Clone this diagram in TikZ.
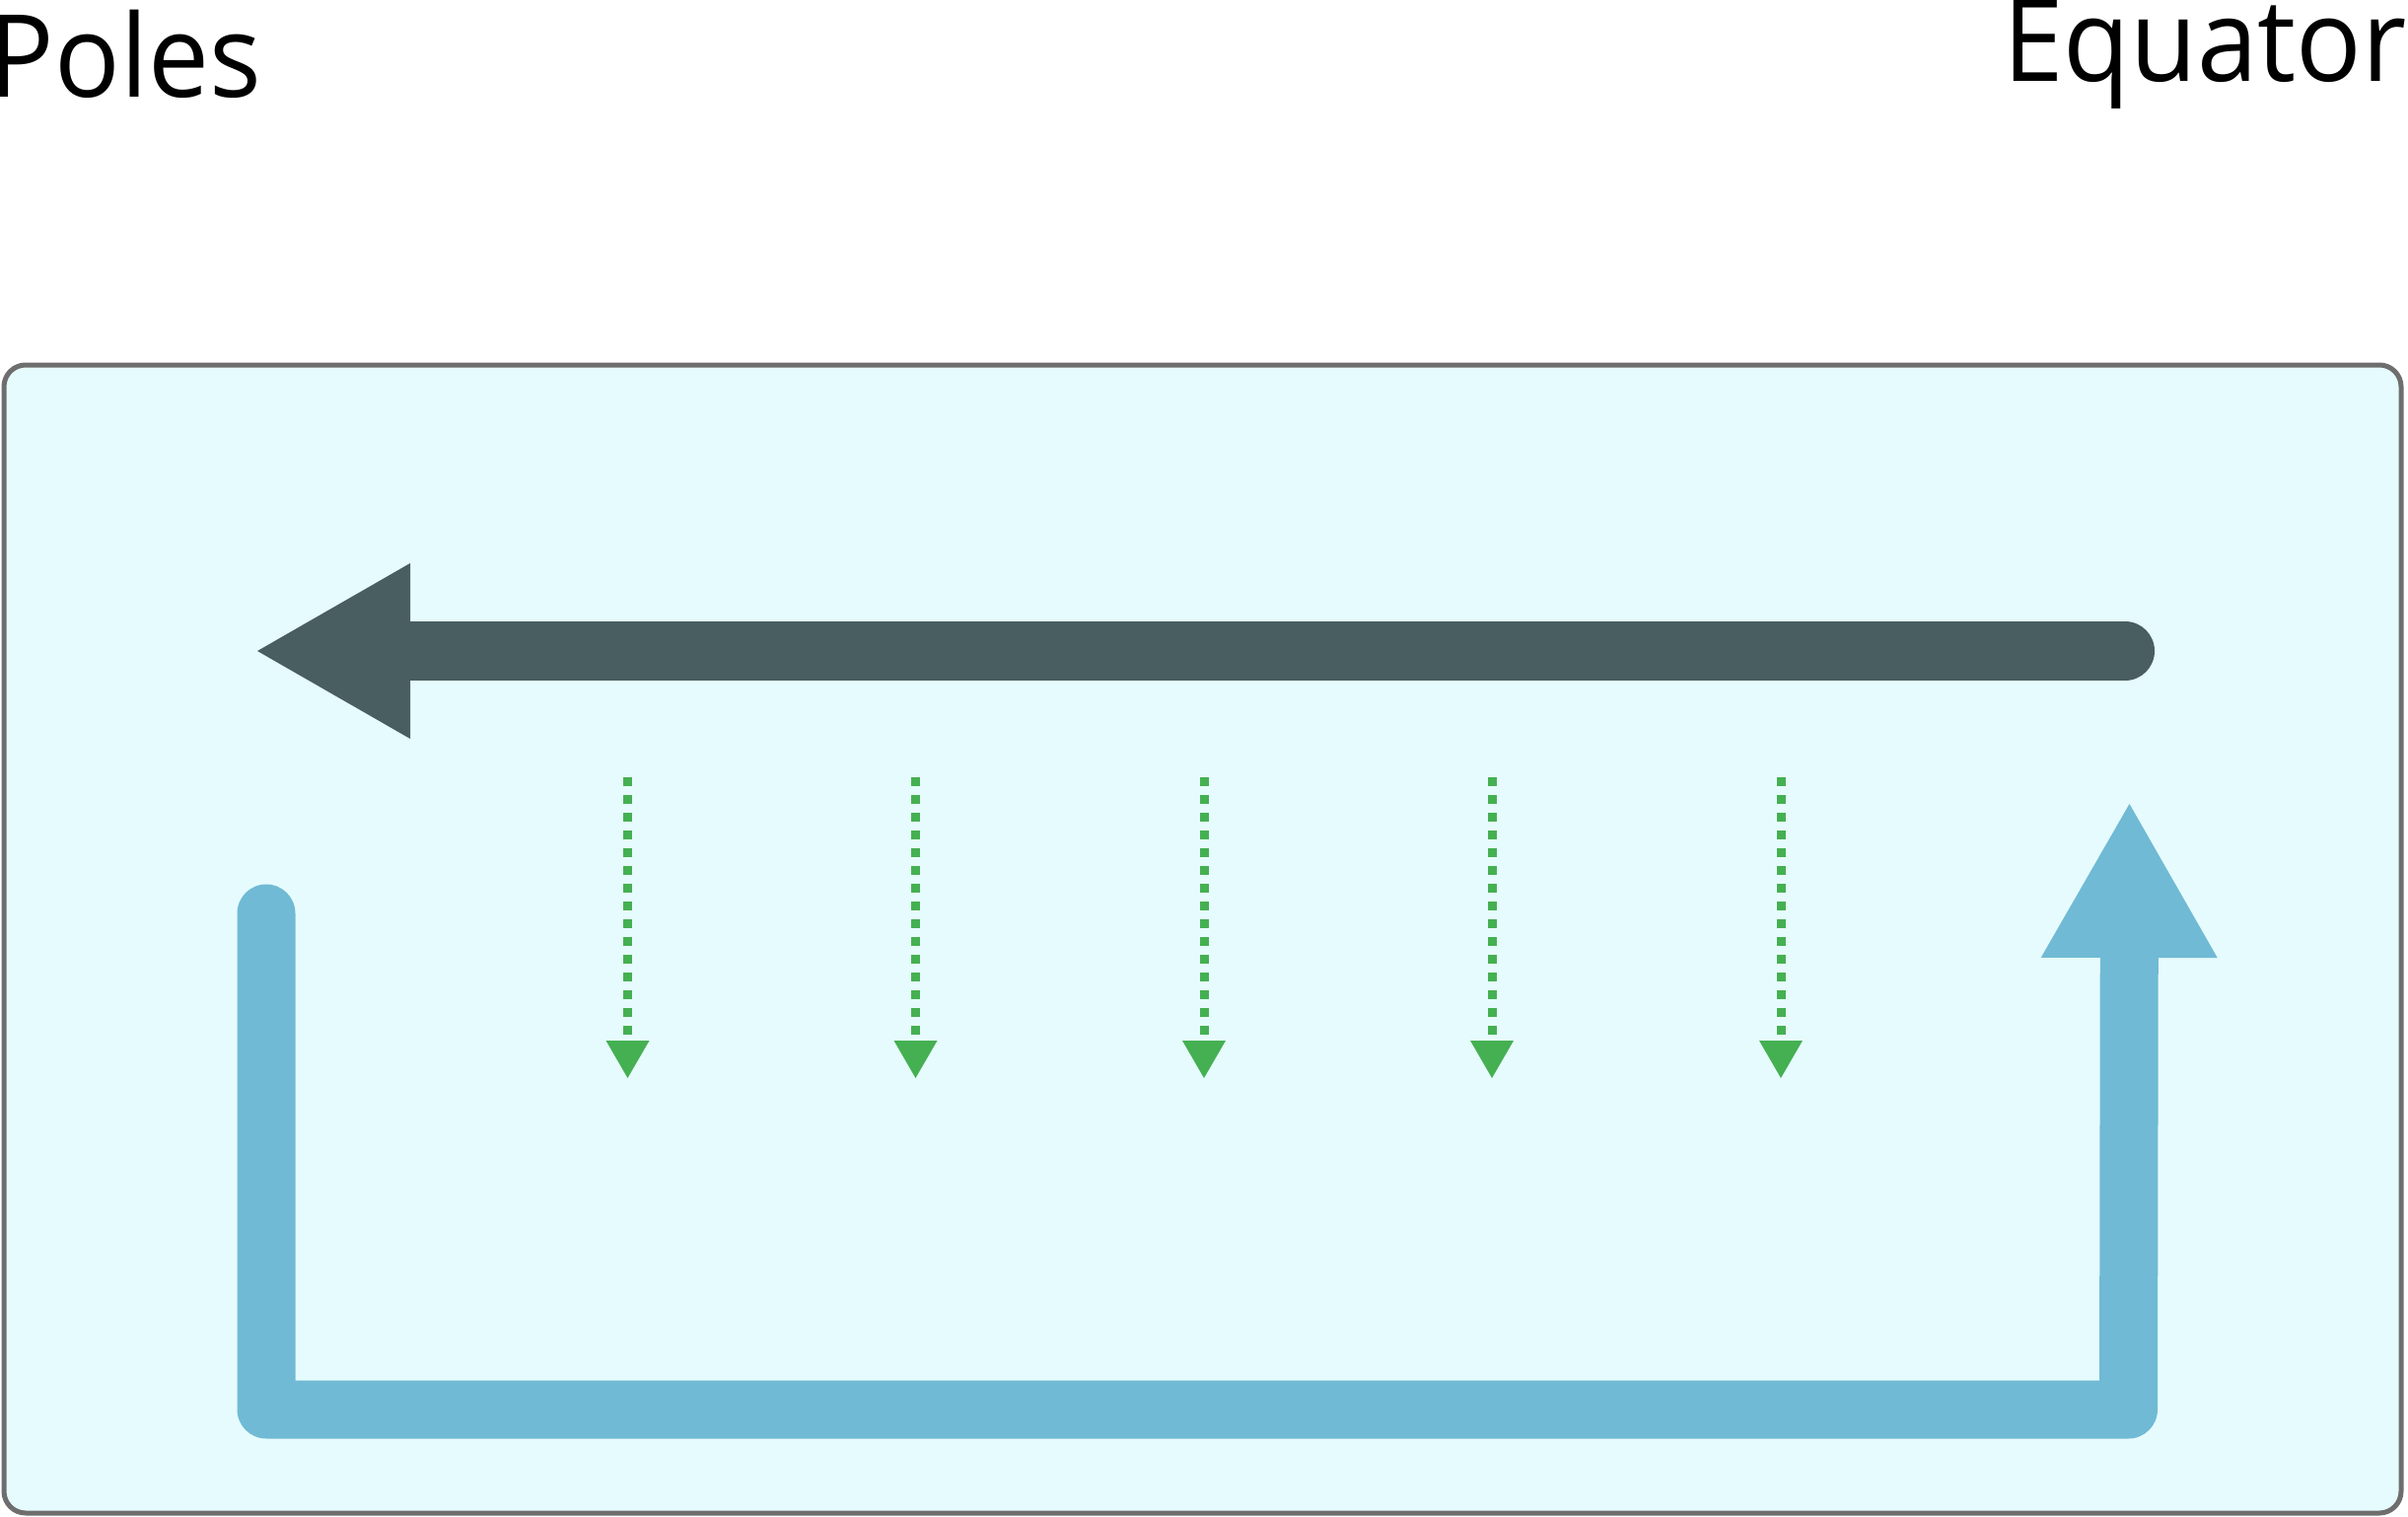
\documentclass[tikz,border=0pt]{standalone}
\usepackage{fontspec}
\setmainfont{Open Sans}[FakeStretch=0.95]
\usetikzlibrary{arrows.meta}
\definecolor{boxfill}{HTML}{E6FBFD}
\definecolor{boxline}{HTML}{6E6E6E}
\definecolor{darkflow}{HTML}{485E60}
\definecolor{blueflow}{HTML}{70BAD5}
\definecolor{greenflow}{HTML}{45B052}
\tikzset{
  frame/.style={draw=boxline, fill=boxfill, line width=1.5pt, rounded corners=6.6pt,
    minimum width=729.3pt, minimum height=349.2pt, inner sep=0pt},
  label/.style={inner sep=0pt, outer sep=0pt, anchor=base west,
    font=\fontsize{34.9pt}{40pt}\selectfont},
  upperflow/.style={draw=darkflow, line width=18pt, line cap=round,
    -{Triangle[length=46.5pt, width=53.4pt, line width=0pt]}},
  lowerflow/.style={draw=blueflow, line width=17.7pt, line cap=round, line join=round,
    -{Triangle[length=46.8pt, width=53.7pt, line width=0pt]}},
  sinkflow/.style={draw=greenflow, line width=2.7pt, dash pattern=on 2.7pt off 2.7pt,
    -{Triangle[length=11.4pt, width=13.2pt, line width=0pt]}}
}
\begin{document}
\begin{tikzpicture}[x=0.3pt, y=-0.3pt]
\useasboundingbox (0,0) rectangle (2442,1538);
\node[frame] (box) at (1219.5,952) {};
\node[label] (poles) at (-11,99) {Poles};
\node[label] (equator) at (2031,83) {Equator};
% upper (poleward) flow
\coordinate (uppertail) at (2155,660);
\coordinate (upperhead) at (261,660);
\draw[upperflow] (uppertail) -- (upperhead);
% lower return flow
\coordinate (lowstart) at (270,926);
\coordinate (lowcornerA) at (270,1429);
\coordinate (lowcornerB) at (2158.5,1429);
\coordinate (lowhead) at (2159.5,815);
\draw[lowerflow] (lowstart) -- (lowcornerA) -- (lowcornerB) -- (lowhead);
% sinking arrows
\foreach \i/\x in {1/636.5,2/928.5,3/1221,4/1513,5/1806}{
  \coordinate (gtop\i) at (\x,788);
  \coordinate (gtip\i) at (\x,1093);
  \draw[sinkflow] (gtop\i) -- (gtip\i);
}
\end{tikzpicture}
\end{document}
